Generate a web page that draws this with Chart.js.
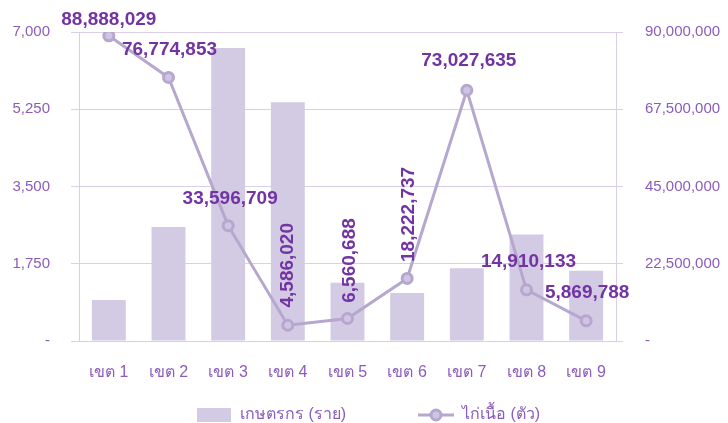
<!DOCTYPE html>
<html>
<head>
<meta charset="utf-8">
<script src="https://cdn.jsdelivr.net/npm/chart.js@4"></script>
<style>
  html, body { margin: 0; padding: 0; background: #fff; }
  #wrap { width: 728px; height: 423px; }
</style>
</head>
<body>
<div id="wrap"><canvas id="c" width="728" height="423"></canvas></div>
<script>
// data
const categories = ['เขต 1', 'เขต 2', 'เขต 3', 'เขต 4', 'เขต 5', 'เขต 6', 'เขต 7', 'เขต 8', 'เขต 9'];
const farmers = [930, 2580, 6640, 5410, 1320, 1090, 1650, 2410, 1590];
const broilers = [88888029, 76774853, 33596709, 4586020, 6560688, 18222737, 73027635, 14910133, 5869788];
const leftTicks = [0, 1750, 3500, 5250, 7000];
const rightTicks = [0, 22500000, 45000000, 67500000, 90000000];
const seriesNames = ['เกษตรกร (ราย)', 'ไก่เนื้อ (ตัว)'];

// where each line value label sits relative to its point: dx, dy, rotated
const labelPlace = [
  [0, -16, false], [1, -28, false], [2, -27, false], [0, -60, true], [2, -58, true],
  [2, -64, true], [2, -30, false], [2, -28, false], [1, -28, false]
];

const FONT = "'Liberation Sans', 'DejaVu Sans', sans-serif";
const tickColor = '#8c5cbc';
const gridColor = '#d9d0e8';
const barColor = '#d3cae3';
const lineColor = '#b6a7ce';
const labelColor = '#7233a3';

const fmt = v => v === 0 ? '-' : v.toLocaleString('en-US');

// draws the value labels over the line points
const valueLabels = {
  id: 'valueLabels',
  afterDatasetsDraw(chart) {
    const ctx = chart.ctx;
    const meta = chart.getDatasetMeta(1);
    ctx.save();
    ctx.fillStyle = labelColor;
    ctx.font = 'bold 19px ' + FONT;
    ctx.textAlign = 'center';
    ctx.textBaseline = 'middle';
    meta.data.forEach((pt, i) => {
      const [dx, dy, rot] = labelPlace[i];
      const txt = broilers[i].toLocaleString('en-US');
      ctx.save();
      ctx.translate(pt.x + dx, pt.y + dy);
      if (rot) ctx.rotate(-Math.PI / 2);
      ctx.fillText(txt, 0, 0);
      ctx.restore();
    });
    ctx.restore();
  }
};

// legend: bar swatch and line-with-circle swatch
const bottomLegend = {
  id: 'bottomLegend',
  afterDraw(chart) {
    const ctx = chart.ctx;
    const y = 415;
    ctx.save();
    ctx.font = '16px ' + FONT;
    ctx.textBaseline = 'middle';
    ctx.fillStyle = barColor;
    ctx.fillRect(197, 408, 34, 14);
    ctx.fillStyle = tickColor;
    ctx.fillText(seriesNames[0], 240, y);

    ctx.strokeStyle = lineColor;
    ctx.lineWidth = 3;
    ctx.beginPath();
    ctx.moveTo(418, y); ctx.lineTo(454, y);
    ctx.stroke();
    ctx.beginPath();
    ctx.arc(436, y, 5, 0, Math.PI * 2);
    ctx.fillStyle = '#cfc4e2';
    ctx.fill();
    ctx.stroke();
    ctx.fillStyle = tickColor;
    ctx.fillText(seriesNames[1], 462, y);
    ctx.restore();
  }
};

new Chart(document.getElementById('c'), {
  data: {
    labels: categories,
    datasets: [
      {
        type: 'bar', label: seriesNames[0], data: farmers, yAxisID: 'y',
        backgroundColor: barColor, barPercentage: 0.71, categoryPercentage: 0.8, order: 2
      },
      {
        type: 'line', label: seriesNames[1], data: broilers, yAxisID: 'y1',
        borderColor: lineColor, borderWidth: 3, tension: 0,
        pointRadius: 5, pointHoverRadius: 5, pointBorderWidth: 3,
        pointBackgroundColor: '#cfc4e2', pointBorderColor: lineColor, order: 1
      }
    ]
  },
  options: {
    responsive: false,
    animation: false,
    layout: { padding: { top: 32, bottom: 32, left: 0, right: 0 } },
    plugins: { legend: { display: false }, tooltip: { enabled: false } },
    scales: {
      x: {
        grid: { display: false },
        border: { color: gridColor },
        ticks: { color: tickColor, font: { family: FONT, size: 16 }, padding: 14 },
        afterFit(s) { s.height = 50; }
      },
      y: {
        position: 'left', min: 0, max: 7000,
        afterBuildTicks(s) { s.ticks = leftTicks.map(v => ({ value: v })); },
        grid: { color: gridColor, tickLength: 8, drawOnChartArea: true },
        border: { color: gridColor },
        ticks: { color: tickColor, font: { family: FONT, size: 15 }, padding: 21, callback: fmt },
        afterFit(s) { s.width = 79; }
      },
      y1: {
        position: 'right', min: 0, max: 90000000,
        afterBuildTicks(s) { s.ticks = rightTicks.map(v => ({ value: v })); },
        grid: { drawOnChartArea: false, color: gridColor, tickLength: 7 },
        border: { color: gridColor },
        ticks: { color: tickColor, font: { family: FONT, size: 15 }, padding: 22, callback: fmt },
        afterFit(s) { s.width = 112; }
      }
    }
  },
  plugins: [valueLabels, bottomLegend]
});
</script>
</body>
</html>
